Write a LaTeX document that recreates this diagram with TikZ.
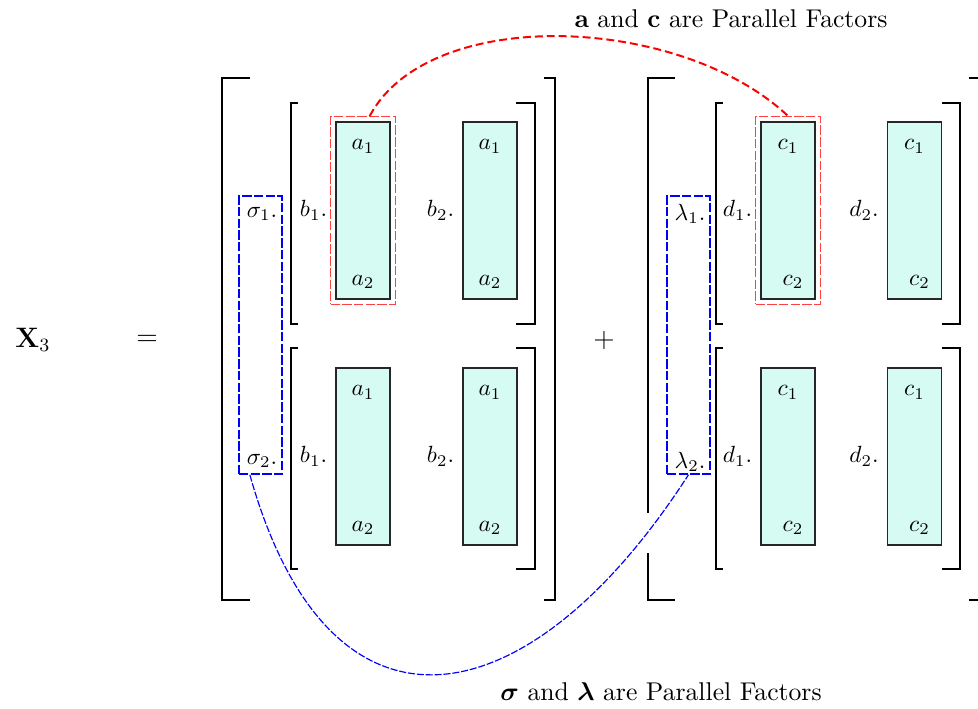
\documentclass[tikz,border=0pt]{standalone}
\usepackage{amsmath,amssymb}
\usetikzlibrary{positioning,fit}
\definecolor{cellfill}{RGB}{214,251,242}

\begin{document}
\begin{tikzpicture}[x=0.015cm, y=-0.015cm]
\tikzstyle{brk}=[line width=0.8pt, black]
\tikzstyle{cell}=[draw=black!85, fill=cellfill, line width=0.6pt,
  minimum width=0.81cm, minimum height=2.655cm, inner sep=0pt]
\tikzstyle{bluebox}=[draw=blue, line width=0.6pt, dash pattern=on 4pt off 1pt,
  minimum width=0.645cm, minimum height=4.17cm, inner sep=0pt]
\tikzstyle{redbox}=[draw=red!75, line width=0.5pt, dash pattern=on 4pt off 1pt, inner sep=2pt]
\tikzstyle{note}=[font=\fontsize{10.95}{13}\selectfont]
\useasboundingbox (0,0) rectangle (978,708);

% outer brackets
\draw[brk] (250,78) -| (222,600) -- (250,600);
\draw[brk] (544,78) -| (555,600) -- (544,600);
\draw[brk] (675,78) -| (648,513);
\draw[brk] (648,553) |- (675,600);
\draw[brk] (969,78) -| (981,600) -- (969,600);

% inner brackets
\draw[brk] (298,103) -| (291,324) -- (298,324);
\draw[brk] (516,103) -| (535,324) -- (516,324);
\draw[brk] (298,348) -| (291,569) -- (298,569);
\draw[brk] (516,348) -| (535,569) -- (516,569);
\draw[brk] (723,103) -| (716,324) -- (723,324);
\draw[brk] (942,103) -| (960,324) -- (942,324);
\draw[brk] (723,348) -| (716,569) -- (723,569);
\draw[brk] (942,348) -| (960,569) -- (942,569);

\node[font=\large] (x3) at (33,340) {$\mathbf{X}_3$};
\node[font=\large] (eq) at (147,340) {$=$};
\node[font=\large] (plus) at (604,340) {$+$};

% columns
\node[cell] (a11) at (363,210.5) {};
\node[cell] (a12) at (490,210.5) {};
\node[cell] (a21) at (363,456.5) {};
\node[cell] (a22) at (490,456.5) {};
\node[cell] (c11) at (788,210.5) {};
\node[cell] (c12) at (914.5,210.5) {};
\node[cell] (c21) at (788,456.5) {};
\node[cell] (c22) at (914.5,456.5) {};

\node (a11t) at ([yshift=-0.375cm]a11.north) {$a_1$};
\node (a11b) at ([yshift=0.27cm]a11.south) {$a_2$};
\node (a12t) at ([yshift=-0.375cm]a12.north) {$a_1$};
\node (a12b) at ([yshift=0.27cm]a12.south) {$a_2$};
\node (a21t) at ([yshift=-0.375cm]a21.north) {$a_1$};
\node (a21b) at ([yshift=0.27cm]a21.south) {$a_2$};
\node (a22t) at ([yshift=-0.375cm]a22.north) {$a_1$};
\node (a22b) at ([yshift=0.27cm]a22.south) {$a_2$};
\node (c11t) at ([yshift=-0.375cm]c11.north) {$c_1$};
\node (c11b) at ([xshift=0.075cm,yshift=0.27cm]c11.south) {$c_2$};
\node (c12t) at ([yshift=-0.375cm]c12.north) {$c_1$};
\node (c12b) at ([xshift=0.075cm,yshift=0.27cm]c12.south) {$c_2$};
\node (c21t) at ([yshift=-0.375cm]c21.north) {$c_1$};
\node (c21b) at ([xshift=0.075cm,yshift=0.27cm]c21.south) {$c_2$};
\node (c22t) at ([yshift=-0.375cm]c22.north) {$c_1$};
\node (c22b) at ([xshift=0.075cm,yshift=0.27cm]c22.south) {$c_2$};

\node[left=0pt of a11] (b11) {$b_1.$};
\node[left=0pt of a12] (b12) {$b_2.$};
\node[left=0pt of a21] (b21) {$b_1.$};
\node[left=0pt of a22] (b22) {$b_2.$};
\node[left=0pt of c11] (d11) {$d_1.$};
\node[left=0pt of c12] (d12) {$d_2.$};
\node[left=0pt of c21] (d21) {$d_1.$};
\node[left=0pt of c22] (d22) {$d_2.$};

% weights
\node (s1) at (262,214) {$\sigma_1.$};
\node (s2) at (262,461) {$\sigma_2.$};
\node (l1) at (690,214) {$\lambda_1.$};
\node (l2) at (690,462) {$\lambda_2.$};
\node[bluebox] (sbox) at (260.5,335) {};
\node[bluebox] (lbox) at (688.5,335) {};
\node[redbox, fit=(a11)] (abox) {};
\node[redbox, fit=(c11)] (cbox) {};

\draw[red, line width=0.85pt, dash pattern=on 3.4pt off 1.7pt]
  ([xshift=0.1cm]abox.north) .. controls +(60,-112) and +(-107,-101) .. (cbox.north);
\draw[blue, line width=0.5pt, dash pattern=on 3pt off 0.8pt]
  ([xshift=-0.16cm]sbox.south) .. controls +(80,285) and +(-160,248) .. (lbox.south);

\node[note] (topnote) at (731,19) {$\mathbf{a}$ and $\mathbf{c}$ are Parallel Factors};
\node[note] (botnote) at (661,692) {$\boldsymbol{\sigma}$ and $\boldsymbol{\lambda}$ are Parallel Factors};
\end{tikzpicture}
\end{document}
